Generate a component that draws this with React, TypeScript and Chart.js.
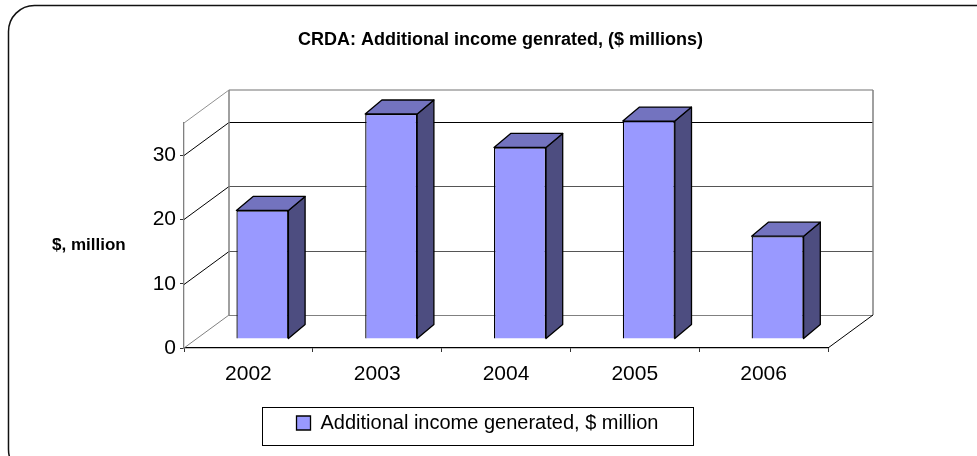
import React, { useEffect, useRef } from "react";
import { Chart, registerables } from "chart.js";

Chart.register(...registerables);

const categories = ["2002", "2003", "2004", "2005", "2006"];
const seriesName = "Additional income generated, $ million";
const incomeValues = [20, 35, 29.8, 33.9, 16];
const yTicks = [0, 10, 20, 30];
const titleText = "CRDA: Additional income genrated, ($ millions)";
const yAxisLabel = "$, million";

const FONT = "'Liberation Sans', Arial, sans-serif";
const WALL_DX = 45;
const WALL_DY = -33;
const BAR_SHIFT_X = 14;
const BAR_SHIFT_Y = -9;
const BAR_DX = 16.7;
const BAR_DY = -14;
const FRONT = "#9999FF";
const SIDE = "#4D4D80";
const TOP = "#7373BF";

const line = (ctx: CanvasRenderingContext2D, x1: number, y1: number, x2: number, y2: number, color: string, w = 1) => {
  ctx.beginPath();
  ctx.strokeStyle = color;
  ctx.lineWidth = w;
  ctx.moveTo(x1, y1);
  ctx.lineTo(x2, y2);
  ctx.stroke();
};

const face = (ctx: CanvasRenderingContext2D, pts: number[][], fill: string) => {
  ctx.beginPath();
  pts.forEach(([x, y], i) => (i ? ctx.lineTo(x, y) : ctx.moveTo(x, y)));
  ctx.closePath();
  ctx.fillStyle = fill;
  ctx.fill();
  ctx.strokeStyle = "#000";
  ctx.lineWidth = 1.3;
  ctx.lineJoin = "round";
  ctx.stroke();
};

const chart3d = {
  id: "chart3d",
  afterLayout(chart: any) {
    const t = chart.titleBlock;
    t.left = 24;
    t.right = 977;
    const l = chart.legend;
    l.left = 0;
    l.right = 955;
    l.top = 426 - l.height / 2;
    l.bottom = l.top + l.height;
  },
  beforeDraw(chart: any) {
    const ctx = chart.ctx;
    ctx.save();
    ctx.beginPath();
    ctx.roundRect(8.5, 5.5, 1100, 470, 26);
    ctx.strokeStyle = "#111";
    ctx.lineWidth = 1.5;
    ctx.stroke();
    ctx.restore();
  },
  beforeDatasetsDraw(chart: any) {
    const ctx = chart.ctx;
    const { left, right, top, bottom } = chart.chartArea;
    const y = chart.scales.y;
    ctx.save();
    const bx1 = left + WALL_DX, bx2 = right + WALL_DX;
    yTicks.forEach((v) => {
      const py = Math.round(y.getPixelForValue(v)) + 0.5;
      const c = v === 30 ? "#000" : v === 0 ? "#808080" : "#555";
      line(ctx, bx1, py + WALL_DY, bx2, py + WALL_DY, c);
      if (v > 0) line(ctx, left, py, bx1, py + WALL_DY, "#000");
    });
    const backTop = top + WALL_DY;
    const backBottom = bottom + WALL_DY;
    line(ctx, bx1, backTop, bx2, backTop, "#a0a0a0", 1.5);
    line(ctx, bx1, backTop, bx1, backBottom, "#808080", 1.5);
    line(ctx, bx2, backTop, bx2, backBottom, "#808080", 1.5);
    line(ctx, left, top, bx1, backTop, "#909090");
    line(ctx, left, bottom, bx1, backBottom, "#808080");
    line(ctx, right, bottom, bx2, backBottom, "#000");

    ctx.fillStyle = "#000";
    ctx.font = `bold 17px ${FONT}`;
    ctx.textAlign = "left";
    ctx.textBaseline = "middle";
    ctx.fillText(yAxisLabel, 52, 245);
    ctx.restore();
  },
  beforeDatasetDraw(chart: any) {
    chart.ctx.save();
    chart.ctx.translate(BAR_SHIFT_X, BAR_SHIFT_Y);
  },
  afterDatasetDraw(chart: any, args: any) {
    const ctx = chart.ctx;
    chart.getDatasetMeta(args.index).data.forEach((bar: any) => {
      const { x, y, base, width } = bar.getProps(["x", "y", "base", "width"], true);
      const r = x + width / 2;
      const l = x - width / 2;
      face(ctx, [[r, y], [r + BAR_DX, y + BAR_DY], [r + BAR_DX, base + BAR_DY], [r, base]], SIDE);
      face(ctx, [[l, y], [l + BAR_DX, y + BAR_DY], [r + BAR_DX, y + BAR_DY], [r, y]], TOP);
    });
    ctx.restore();
  },
  afterDraw(chart: any) {
    const ctx = chart.ctx;
    const l = chart.legend;
    ctx.save();
    ctx.strokeStyle = "#000";
    ctx.lineWidth = 1;
    ctx.strokeRect(262.5, 407.5, 431, 38);
    ctx.restore();
  },
};

export default function App() {
  const ref = useRef<HTMLCanvasElement>(null);
  useEffect(() => {
    document.body.style.margin = "0";
    document.body.style.background = "#fff";
    const chart = new Chart(ref.current as HTMLCanvasElement, {
      type: "bar",
      data: {
        labels: categories,
        datasets: [
          {
            label: seriesName,
            data: incomeValues,
            backgroundColor: FRONT,
            borderColor: "#000",
            borderWidth: 1.3,
            barPercentage: 52 / 128.8,
            categoryPercentage: 1,
            clip: false as any,
          },
        ],
      },
      options: {
        responsive: false,
        animation: false,
        devicePixelRatio: 1,
        layout: { padding: { left: 24, right: 149, top: 0, bottom: 10 } },
        plugins: {
          tooltip: { enabled: false },
          title: {
            display: true,
            text: titleText,
            color: "#000",
            font: { family: FONT, size: 18, weight: "bold", lineHeight: 1.2 },
            padding: { top: 29, bottom: 72.4 },
          },
          legend: {
            display: true,
            position: "bottom",
            labels: {
              color: "#000",
              boxWidth: 14,
              boxHeight: 14,
              padding: 4,
              font: { family: FONT, size: 20 },
            },
          },
        },
        scales: {
          x: {
            afterFit: (s: any) => { s.height = 64; },
            grid: { drawOnChartArea: false, drawTicks: true, tickLength: 4, color: "#333", offset: true },
            border: { color: "#000", width: 1.3 },
            ticks: { color: "#000", padding: 10, font: { family: FONT, size: 21 }, maxRotation: 0 },
          },
          y: {
            min: 0,
            max: 35,
            afterFit: (s: any) => { s.width = 160; },
            afterBuildTicks: (s: any) => { s.ticks = yTicks.map((value) => ({ value })); },
            grid: { drawOnChartArea: false, drawTicks: true, tickLength: 4, color: "#333" },
            border: { color: "#808080", width: 1.3 },
            ticks: { color: "#000", padding: 4, font: { family: FONT, size: 21 } },
          },
        },
      },
      plugins: [chart3d],
    } as any);
    return () => chart.destroy();
  }, []);
  return <canvas ref={ref} width={977} height={456} style={{ display: "block", width: 977, height: 456 }} />;
}
